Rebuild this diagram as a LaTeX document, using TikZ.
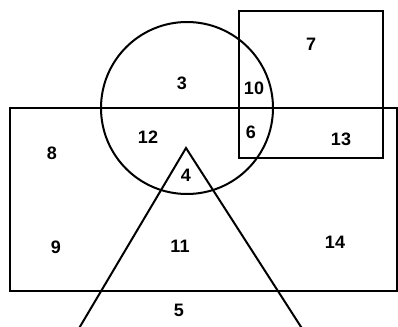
\documentclass[tikz,border=0pt]{standalone}
\usepackage{fontspec}
\setmainfont{Liberation Sans}
\begin{document}
\begin{tikzpicture}[x=1pt,y=-1pt,
  shape line/.style={line width=2pt,black},
  lbl/.style={font=\fontsize{18}{18}\selectfont\bfseries,inner sep=0pt}]
\useasboundingbox (0,0) rectangle (398,326);
\begin{scope}
\clip (0,0) rectangle (398,326);
\draw[shape line] (187,108) circle[radius=86];
\draw[shape line] (239,11) rectangle (383,158);
\draw[shape line] (10,108) rectangle (397,291);
\coordinate (apex) at (186,148);
\coordinate (tl) at (78,330);
\coordinate (tr) at (303,330);
\draw[shape line,line join=miter] (tl) -- (apex) -- (tr);
\end{scope}
\node[lbl] (n3) at (182,83) {3};
\node[lbl] (n10) at (254,88) {10};
\node[lbl] (n7) at (311,44) {7};
\node[lbl] (n12) at (148,137) {12};
\node[lbl] (n6) at (251,132) {6};
\node[lbl] (n13) at (341,139) {13};
\node[lbl] (n8) at (52,153) {8};
\node[lbl] (n4) at (186,175) {4};
\node[lbl] (n9) at (56,247) {9};
\node[lbl] (n11) at (180,246) {11};
\node[lbl] (n14) at (335,242) {14};
\node[lbl] (n5) at (179,310) {5};
\end{tikzpicture}
\end{document}
